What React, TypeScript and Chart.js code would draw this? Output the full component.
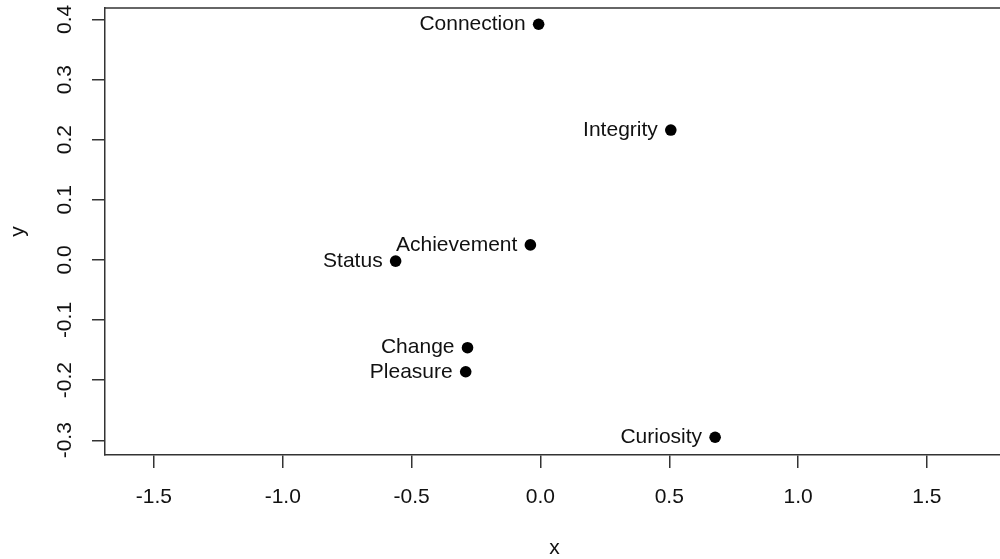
import React, { useEffect, useRef } from "react";
import { Chart, registerables } from "chart.js";

Chart.register(...registerables);

const pointLabels = ["Connection", "Integrity", "Achievement", "Status", "Change", "Pleasure", "Curiosity"];
const xValues = [-0.007, 0.506, -0.039, -0.562, -0.283, -0.290, 0.678];
const yValues = [0.392, 0.216, 0.025, -0.002, -0.146, -0.186, -0.295];
const xTickValues = [-1.5, -1.0, -0.5, 0.0, 0.5, 1.0, 1.5];
const yTickValues = [-0.3, -0.2, -0.1, 0.0, 0.1, 0.2, 0.3, 0.4];
const xTitle = "x";
const yTitle = "y";

const FONT = '"Liberation Sans", Arial, Helvetica, sans-serif';
const AXIS_COLOR = "#333333";
const TEXT_COLOR = "#111111";

const overlay = {
  id: "rOverlay",
  afterDraw(chart: any) {
    const ctx = chart.ctx;
    const xs = chart.scales.x;
    const ys = chart.scales.y;
    const area = chart.chartArea;
    ctx.save();
    // top frame line
    ctx.strokeStyle = AXIS_COLOR;
    ctx.lineWidth = 1.5;
    ctx.beginPath();
    ctx.moveTo(area.left, area.top);
    ctx.lineTo(area.right, area.top);
    ctx.stroke();

    ctx.fillStyle = TEXT_COLOR;
    ctx.font = `21px ${FONT}`;
    // y tick labels rotated
    yTickValues.forEach((v) => {
      const py = ys.getPixelForValue(v);
      ctx.save();
      ctx.translate(65, py);
      ctx.rotate(-Math.PI / 2);
      ctx.textAlign = "center";
      ctx.textBaseline = "middle";
      ctx.fillText(v.toFixed(1), 0, 0);
      ctx.restore();
    });

    // point labels
    ctx.textAlign = "right";
    ctx.textBaseline = "middle";
    pointLabels.forEach((lab, i) => {
      const px = xs.getPixelForValue(xValues[i]);
      const py = ys.getPixelForValue(yValues[i]);
      ctx.fillText(lab, px - 13, py);
    });

    // axis titles
    ctx.textAlign = "center";
    ctx.textBaseline = "middle";
    ctx.fillText(xTitle, (area.left + area.right) / 2, 548);
    ctx.save();
    ctx.translate(18, (area.top + area.bottom) / 2);
    ctx.rotate(-Math.PI / 2);
    ctx.fillText(yTitle, 0, 0);
    ctx.restore();
    ctx.restore();
  },
};

export default function App() {
  const ref = useRef<HTMLCanvasElement | null>(null);
  useEffect(() => {
    if (!ref.current) return;
    const chart = new Chart(ref.current, {
      type: "scatter",
      data: {
        datasets: [
          {
            data: xValues.map((x, i) => ({ x, y: yValues[i] })),
            backgroundColor: "#000",
            borderWidth: 0,
            pointRadius: 5.8,
          },
        ],
      },
      options: {
        animation: false,
        responsive: false,
        devicePixelRatio: 1,
        layout: { padding: { top: 8, right: 3, left: 0, bottom: 0 } },
        plugins: { legend: { display: false }, tooltip: { enabled: false } },
        scales: {
          x: {
            type: "linear",
            min: -1.69,
            max: 1.80,
            afterFit: (s: any) => {
              s.height = 104;
            },
            afterBuildTicks: (s: any) => {
              s.ticks = xTickValues.map((v) => ({ value: v }));
            },
            ticks: {
              includeBounds: false,
              autoSkip: false,
              maxRotation: 0,
              minRotation: 0,
              padding: 17,
              color: TEXT_COLOR,
              font: { size: 21, family: FONT },
              callback: (v: any) => Number(v).toFixed(1),
            },
            grid: { drawOnChartArea: false, drawTicks: true, tickLength: 13, color: AXIS_COLOR, lineWidth: 1.5 },
            border: { display: true, color: AXIS_COLOR, width: 1.5 },
          },
          y: {
            type: "linear",
            min: -0.3245,
            max: 0.419,
            afterFit: (s: any) => {
              s.width = 105;
            },
            afterBuildTicks: (s: any) => {
              s.ticks = yTickValues.map((v) => ({ value: v }));
            },
            ticks: { display: false, includeBounds: false },
            grid: { drawOnChartArea: false, drawTicks: true, tickLength: 13, color: AXIS_COLOR, lineWidth: 1.5 },
            border: { display: true, color: AXIS_COLOR, width: 1.5 },
          },
        },
      },
      plugins: [overlay],
    } as any);
    return () => chart.destroy();
  }, []);
  return (
    <div style={{ position: "fixed", left: 0, top: 0, width: 1000, height: 559, overflow: "hidden", background: "#fff" }}>
      <canvas ref={ref} width={1010} height={559} style={{ display: "block", width: 1010, height: 559 }} />
    </div>
  );
}
